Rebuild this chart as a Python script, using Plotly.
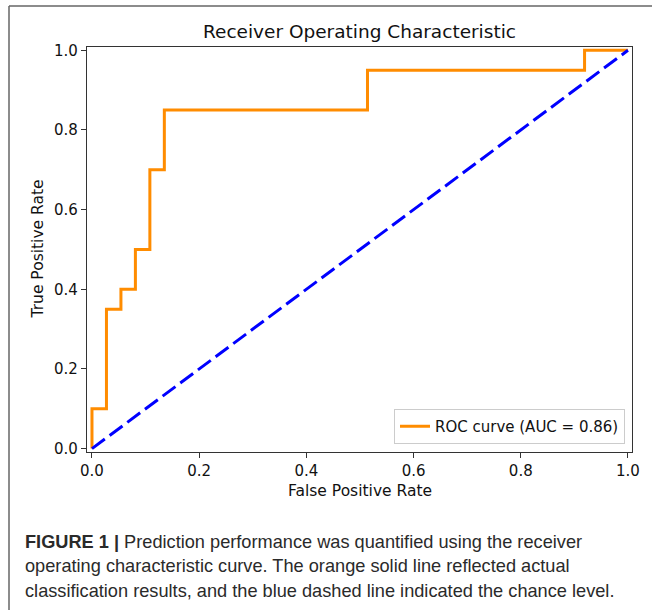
import plotly.graph_objects as go

# ---- data ----
fpr = [0.0, 0.0, 0.027, 0.054, 0.081, 0.108, 0.135, 0.514, 0.919, 1.0]
tpr = [0.0, 0.1, 0.35, 0.40, 0.50, 0.70, 0.85, 0.95, 1.0, 1.0]
chance_x = [0.0, 1.0]
chance_y = [0.0, 1.0]
tick_vals = [0.0, 0.2, 0.4, 0.6, 0.8, 1.0]
tick_text = ["0.0", "0.2", "0.4", "0.6", "0.8", "1.0"]
roc_label = "ROC curve (AUC = 0.86)"
title_text = "Receiver Operating Characteristic"
x_title = "False Positive Rate"
y_title = "True Positive Rate"
caption_lines = [
    "<b>FIGURE 1 |</b> Prediction performance was quantified using the receiver",
    "operating characteristic curve. The orange solid line reflected actual",
    "classification results, and the blue dashed line indicated the chance level.",
]

W, H = 652, 610
L, R, T, B = 87, 20, 47, 158
PW, PH = W - L - R, H - T - B


def px(xp):
    return (xp - L) / PW


def py(yp):
    return (H - B - yp) / PH


FONT = "DejaVu Sans"
CAP_FONT = "Liberation Sans, Arial, sans-serif"

fig = go.Figure()
fig.add_trace(go.Scatter(
    x=fpr, y=tpr, mode="lines", line_shape="hv",
    line=dict(color="#FF8C00", width=3), name=roc_label,
))
fig.add_trace(go.Scatter(
    x=chance_x, y=chance_y, mode="lines",
    line=dict(color="#0000FF", width=3, dash="16px,6px"), showlegend=False,
))

axis_common = dict(
    showline=True, mirror=True, linecolor="#333333", linewidth=1.3,
    ticks="outside", ticklen=5, tickwidth=1.3, tickcolor="#333333",
    showgrid=False, zeroline=False, tickvals=tick_vals, ticktext=tick_text,
    tickfont=dict(family=FONT, size=15, color="#111111"),
)
fig.update_xaxes(range=[-0.0093, 1.0075], **axis_common)
fig.update_yaxes(range=[-0.0085, 1.0083], **axis_common)

annotations = [
    dict(text=title_text, x=px(359.5), y=py(31), xref="paper", yref="paper",
         showarrow=False, xanchor="center", yanchor="middle",
         font=dict(family=FONT, size=18.5, color="#111111")),
    dict(text=x_title, x=px(360), y=py(491), xref="paper", yref="paper",
         showarrow=False, xanchor="center", yanchor="middle",
         font=dict(family=FONT, size=15.5, color="#111111")),
    dict(text=y_title, x=px(37.5), y=py(249), xref="paper", yref="paper",
         showarrow=False, xanchor="center", yanchor="middle", textangle=-90,
         font=dict(family=FONT, size=15.5, color="#111111")),
]
for i, line in enumerate(caption_lines):
    annotations.append(dict(
        text=line, x=px(23), y=py(541.5 + 24.7 * i), xref="paper", yref="paper",
        showarrow=False, xanchor="left", yanchor="middle", align="left",
        font=dict(family=CAP_FONT, size=18.2, color="#2a2a2a"),
    ))

shapes = [
    dict(type="line", xref="paper", yref="paper", x0=px(9), x1=px(660),
         y0=py(6), y1=py(6), line=dict(color="#666666", width=1.5)),
    dict(type="line", xref="paper", yref="paper", x0=px(9), x1=px(9),
         y0=py(6), y1=py(620), line=dict(color="#666666", width=1.5)),
]

fig.update_layout(
    width=W, height=H, margin=dict(l=L, r=R, t=T, b=B, pad=0),
    paper_bgcolor="white", plot_bgcolor="white",
    annotations=annotations, shapes=shapes,
    legend=dict(
        x=px(625), y=py(444), xanchor="right", yanchor="bottom",
        bgcolor="rgba(255,255,255,0.8)", bordercolor="#cccccc", borderwidth=1,
        font=dict(family=FONT, size=15, color="#111111"),
    ),
    showlegend=True,
)

fig.write_html(
    "out.html",
    config={"displayModeBar": False},
    post_script="document.body.style.margin='0';document.body.style.overflow='hidden';",
)
